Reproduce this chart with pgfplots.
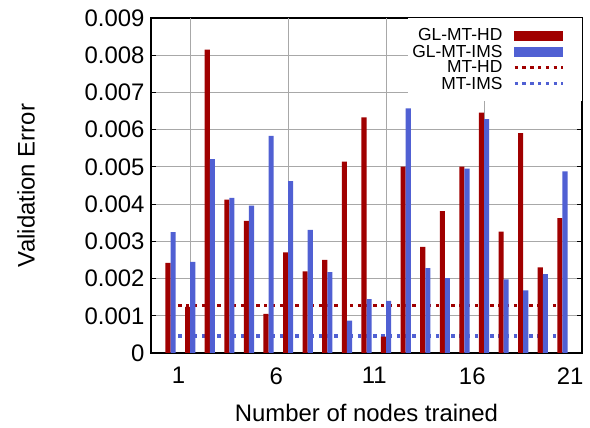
\documentclass[border=0pt]{standalone}
\usepackage{fontspec}
\setmainfont{Liberation Sans}
\usepackage{pgfplots}
\pgfplotsset{compat=1.18}
\definecolor{glhd}{HTML}{A00000}
\definecolor{glims}{HTML}{5060D3}
\definecolor{gridc}{HTML}{A8A8A8}
\begin{document}
\begin{tikzpicture}
\begin{axis}[
  scale only axis, width=431bp, height=335bp,
  xmin=-1, xmax=21, ymin=0, ymax=0.009,
  scaled y ticks=false,
  ytick={0,0.001,0.002,0.003,0.004,0.005,0.006,0.007,0.008,0.009},
  yticklabels={0,0.001,0.002,0.003,0.004,0.005,0.006,0.007,0.008,0.009},
  xtick={0.4,5.4,10.4,15.4,20.4}, xticklabels={1,6,11,16,21},
  x tick style={draw=none},
  extra x ticks={1,6,11,16}, extra x tick labels={},
  extra x tick style={grid=major, tick style={draw=none}},
  ymajorgrids,
  grid style={gridc, line width=0.9bp},
  axis line style={line width=1.3bp},
  y tick style={black, line width=0.9bp}, major tick length=5bp,
  tick align=inside,
  font=\fontsize{24}{28}\selectfont,
  yticklabel style={xshift=-3bp},
  xticklabel style={yshift=-11bp},
  /pgf/number format/assume math mode=true,
  xlabel={Number of nodes trained}, ylabel={Validation Error},
  xlabel style={at={([yshift=-60bp]axis description cs:0.5,0)}, anchor=center},
  ylabel style={at={([xshift=-125bp]axis description cs:0,0.5)}, anchor=center},
  legend style={at={(1,1)}, anchor=north east, draw=none, fill=white,
    font=\fontsize{17.5}{19}\selectfont, row sep=-1.5bp, inner xsep=2bp, inner ysep=8.5bp},
  legend plot pos=right, legend cell align=right,
]
\addlegendimage{legend image code/.code={\fill[glhd] (10bp,-4.5bp) rectangle (58bp,4.5bp); \path (0bp,0bp) (75bp,0bp);}}
\addlegendentry{GL-MT-HD}
\addlegendimage{legend image code/.code={\fill[glims] (10bp,-4.5bp) rectangle (58bp,4.5bp); \path (0bp,0bp) (75bp,0bp);}}
\addlegendentry{GL-MT-IMS}
\addlegendimage{legend image code/.code={\draw[glhd, line width=3.3bp, dash pattern=on 3.3bp off 4.5bp] (10bp,0bp) -- (58bp,0bp); \path (0bp,0bp) (75bp,0bp);}}
\addlegendentry{MT-HD}
\addlegendimage{legend image code/.code={\draw[glims, line width=3.3bp, dash pattern=on 3.3bp off 4.5bp] (10bp,0bp) -- (58bp,0bp); \path (0bp,0bp) (75bp,0bp);}}
\addlegendentry{MT-IMS}

\addplot[forget plot, glhd, line width=3.3bp, dash pattern=on 3.3bp off 4.5bp] coordinates {(0,0.00127) (20,0.00127)};
\addplot[forget plot, glims, line width=3.3bp, dash pattern=on 3.3bp off 4.5bp] coordinates {(0.4,0.00046) (20,0.00046)};

\addplot[forget plot, ybar, bar width=0.26, bar shift=0pt, fill=glhd, draw=none] coordinates {
(-0.13,0.00242) (0.87,0.00124) (1.87,0.00815) (2.87,0.00412) (3.87,0.00355)
(4.87,0.00105) (5.87,0.00270) (6.87,0.00219) (7.87,0.00250) (8.87,0.00514)
(9.87,0.00633) (10.87,0.00044) (11.87,0.00501) (12.87,0.00285) (13.87,0.00381)
(14.87,0.00501) (15.87,0.00646) (16.87,0.00326) (17.87,0.00591) (18.87,0.00230)
(19.87,0.00362)};
\addplot[forget plot, ybar, bar width=0.26, bar shift=0pt, fill=glims, draw=none] coordinates {
(0.13,0.00325) (1.13,0.00245) (2.13,0.00521) (3.13,0.00417) (4.13,0.00396)
(5.13,0.00583) (6.13,0.00462) (7.13,0.00331) (8.13,0.00217) (9.13,0.00087)
(10.13,0.00145) (11.13,0.00140) (12.13,0.00657) (13.13,0.00228) (14.13,0.00201)
(15.13,0.00495) (16.13,0.00628) (17.13,0.00198) (18.13,0.00168) (19.13,0.00212)
(20.13,0.00488)};
\end{axis}
\path ([shift={(-151bp,-75bp)}]current axis.south west) rectangle ([shift={(8bp,18bp)}]current axis.north east);
\end{tikzpicture}
\end{document}
